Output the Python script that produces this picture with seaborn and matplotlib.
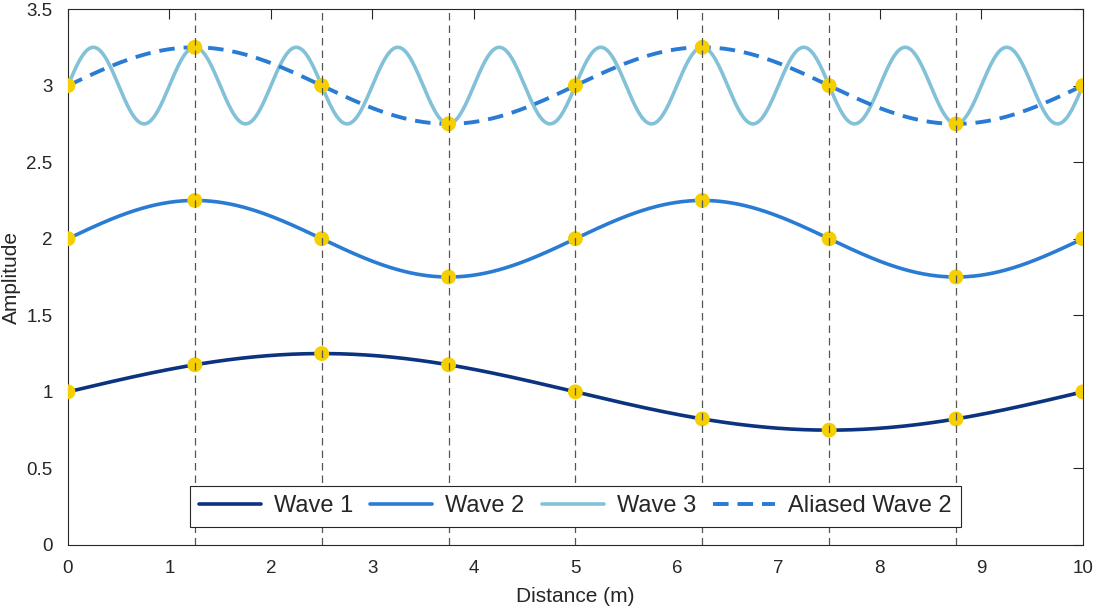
import numpy as np
import pandas as pd
import matplotlib
matplotlib.use("Agg")
import matplotlib.pyplot as plt
import seaborn as sns

# Données des ondes (sinusoïdes) : décalage, amplitude, période (m)
wave_names = ["Wave 1", "Wave 2", "Wave 3", "Aliased Wave 2"]
wave_offsets = [1.0, 2.0, 3.0, 3.0]
wave_amplitudes = [0.25, 0.25, 0.25, 0.25]
wave_periods = [10.0, 5.0, 1.0, 5.0]
wave_colors = ["#0b3380", "#2a7bd3", "#82c1d8", "#2a7bd3"]

# Échantillonnage
sample_spacing = 1.25
x_max = 10.0

x_ticks = list(range(0, 11))
y_ticks = [0, 0.5, 1, 1.5, 2, 2.5, 3, 3.5]
y_tick_labels = ["0", "0.5", "1", "1.5", "2", "2.5", "3", "3.5"]

sns.set_style("white")
plt.rcParams["font.family"] = ["Liberation Sans", "DejaVu Sans"]

x_fine = np.linspace(0, x_max, 2001)
x_samp = np.arange(0, x_max + 1e-9, sample_spacing)

rows = []
for name, off, amp, per in zip(wave_names, wave_offsets, wave_amplitudes, wave_periods):
    for xv in x_fine:
        rows.append({"x": xv, "y": off + amp * np.sin(2 * np.pi * xv / per), "wave": name})
df = pd.DataFrame(rows)

samp_rows = []
for name, off, amp, per in zip(wave_names[:3], wave_offsets[:3], wave_amplitudes[:3], wave_periods[:3]):
    for xv in x_samp:
        samp_rows.append({"x": xv, "y": off + amp * np.sin(2 * np.pi * xv / per), "wave": name})
df_samp = pd.DataFrame(samp_rows)

fig = plt.figure(figsize=(10.96, 6.10), dpi=100)
ax = fig.add_axes([0.062, 0.1066, 0.926, 0.8786])

# lignes verticales aux instants d'échantillonnage
for xv in x_samp[1:-1]:
    ax.axvline(xv, color="#555555", lw=0.9, ls=(0, (6, 4)), zorder=4)

for name, col in zip(wave_names, wave_colors):
    sub = df[df["wave"] == name]
    dashed = name.startswith("Aliased")
    sns.lineplot(data=sub, x="x", y="y", ax=ax, color=col, lw=2.8 if dashed else 2.6,
                 linestyle=(0, (4, 2.3)) if dashed else "-", label=name, zorder=2,
                 sort=False, estimator=None)

sns.scatterplot(data=df_samp, x="x", y="y", ax=ax, color="#f5cf00", s=115,
                edgecolor="none", zorder=3, legend=False)

ax.set_xlim(0, x_max)
ax.set_ylim(0, 3.5)
ax.set_xticks(x_ticks)
ax.set_yticks(y_ticks)
ax.set_yticklabels(y_tick_labels)
ax.set_xlabel("Distance (m)", fontsize=15, color="#262626", labelpad=7)
ax.set_ylabel("Amplitude", fontsize=15, color="#262626", labelpad=4)
ax.tick_params(direction="in", length=7, width=0.8, labelsize=13.5, colors="#262626",
               top=True, right=True, pad=11)
for s in ax.spines.values():
    s.set_visible(True)
    s.set_color("#262626")
    s.set_linewidth(0.8)

leg = ax.legend(loc="lower center", ncol=4, fontsize=17, frameon=True, fancybox=False,
                edgecolor="#262626", framealpha=1, handlelength=2.63, columnspacing=0.72,
                borderpad=0.4, handletextpad=0.55, borderaxespad=0,
                bbox_to_anchor=(0.5, 0.034))
leg.get_frame().set_linewidth(0.8)
leg.set_zorder(10)

fig.savefig("out.png", dpi=100)
